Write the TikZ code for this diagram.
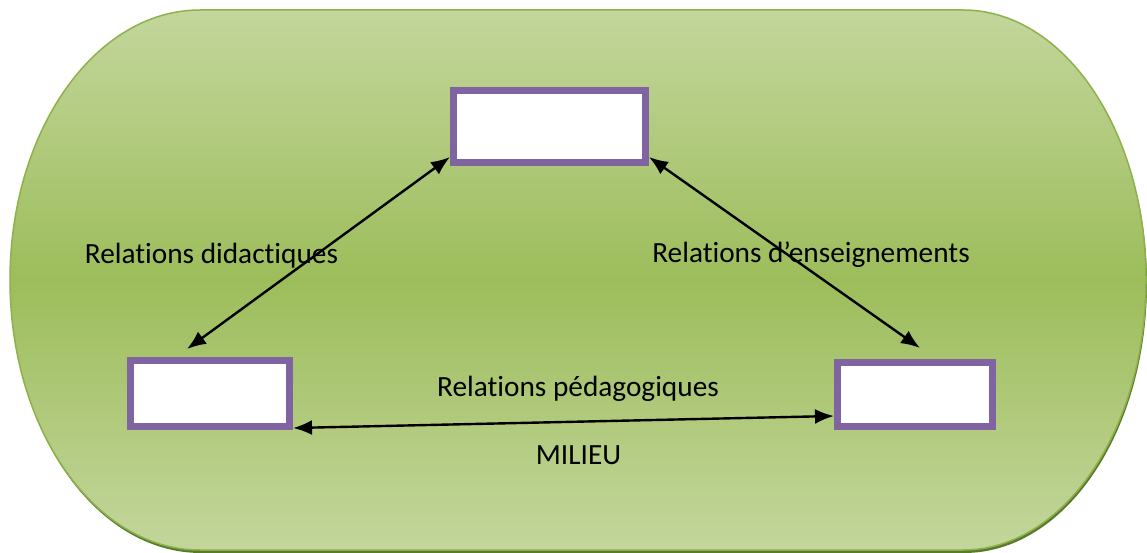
\documentclass[tikz,border=0pt]{standalone}
\usepackage{fontspec}
\setmainfont{Carlito}[Ligatures={NoCommon,NoRare,NoContextual}]
\usetikzlibrary{arrows.meta}
\definecolor{milieulight}{HTML}{C3D69C}
\definecolor{milieudark}{HTML}{9DBD5B}
\definecolor{milieuedge}{HTML}{8DB14B}
\definecolor{milieushadow}{HTML}{5A7A2C}
\definecolor{boxpurple}{HTML}{8064A2}
\begin{document}
\begin{tikzpicture}[x=1pt, y=-1pt,
    pole/.style={draw=boxpurple, line width=7pt, fill=white, inner sep=0pt},
    relation/.style={{Latex[length=19pt,width=15pt]}-{Latex[length=19pt,width=15pt]}, line width=2.4pt},
    lbl/.style={font=\fontsize{29.3}{35}\selectfont, anchor=base, inner sep=0pt}]
  \useasboundingbox (0,0) rectangle (1147,553);
  % Milieu (shadow, then shape)
  \fill[milieushadow] (201,13) -- (964,13)
    arc[start angle=-90, end angle=90, x radius=183, y radius=270] -- (201,553)
    arc[start angle=90, end angle=270, x radius=190, y radius=270] -- cycle;
  \draw[milieuedge, line width=1.5pt, top color=milieulight, bottom color=milieulight,
      middle color=milieudark] (200,10) -- (963,10)
    arc[start angle=-90, end angle=90, x radius=183, y radius=270] -- (200,550)
    arc[start angle=90, end angle=270, x radius=190, y radius=270] -- cycle;
  % Boxes
  \node[pole, minimum width=192pt, minimum height=72pt] (savoir) at (549.5,126.5) {};
  \node[pole, minimum width=159pt, minimum height=66pt] (eleve) at (210,393.5) {};
  \node[pole, minimum width=155pt, minimum height=64pt] (prof) at (915,394.5) {};
  % Arrows
  \draw[relation] ([yshift=9pt]savoir.south west) -- ([xshift=-23pt,yshift=8pt]eleve.north);
  \draw[relation] ([yshift=9pt]savoir.south east) -- ([xshift=5pt,yshift=11pt]prof.north);
  \draw[relation] ([yshift=2pt]eleve.south east) -- ([yshift=14pt]prof.south west);
  % Labels
  \node[lbl] (didac) at (211.5,263) {Relations didactiques};
  \node[lbl] (enseig) at (811,262) {Relations d’enseignements};
  \node[lbl] (pedag) at (578,396) {Relations pédagogiques};
  \node[lbl] (milieu) at (578.5,464) {MILIEU};
\end{tikzpicture}
\end{document}
